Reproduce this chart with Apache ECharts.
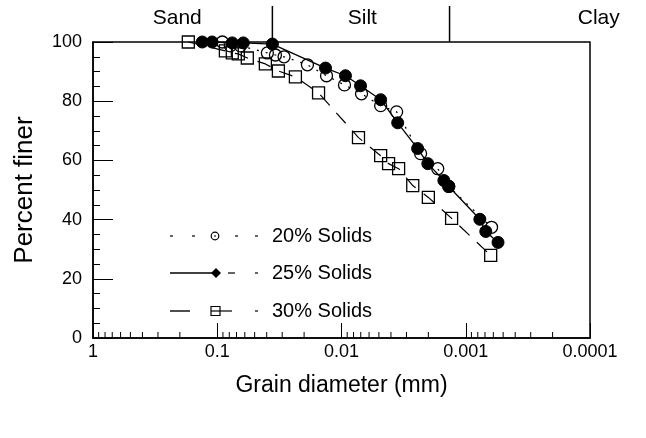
<!DOCTYPE html>
<html>
<head>
<meta charset="utf-8">
<script src="https://cdn.jsdelivr.net/npm/echarts@6/dist/echarts.min.js"></script>
<style>html,body{margin:0;padding:0;background:#fff}#c{width:646px;height:438px}</style>
</head>
<body>
<div id="c"></div>
<script>
// ---- data ----
const xTickLabels = ['1', '0.1', '0.01', '0.001', '0.0001'];
const yTickLabels = [0, 20, 40, 60, 80, 100];

const s20Name = '20% Solids';
const s20x = [0.091, 0.0785, 0.065, 0.0395, 0.034, 0.029, 0.0188, 0.0132, 0.00946, 0.0069, 0.00484, 0.0036, 0.00231, 0.00168, 0.00137, 0.00062];
const s20y = [100, 98.7, 98.7, 96.3, 95.6, 95, 92.3, 88.6, 85.5, 82.5, 78.5, 76.4, 62.3, 57.2, 51.2, 37.4];

const s25Name = '25% Solids';
const s25x = [0.132, 0.11, 0.0757, 0.0617, 0.036, 0.01345, 0.00929, 0.00703, 0.00484, 0.00353, 0.00244, 0.00202, 0.0015, 0.00137, 0.00077, 0.00069, 0.00055];
const s25y = [100, 100, 99.7, 99.7, 99.3, 91.2, 88.6, 85.2, 80.5, 72.7, 64, 58.9, 53.2, 51.2, 40.1, 36, 32.3];

const s30Name = '30% Solids';
const s30x = [0.171, 0.086, 0.0757, 0.0677, 0.0573, 0.041, 0.0322, 0.0235, 0.0153, 0.0073, 0.00484, 0.00418, 0.00347, 0.00267, 0.002, 0.0013, 0.00063];
const s30y = [100, 97, 96.3, 96, 94.6, 92.6, 90.2, 88.2, 82.8, 67.7, 61.6, 58.9, 57.2, 51.5, 47.5, 40.4, 27.9];

const zoneBounds = [0.036, 0.00135];
const zoneLabels = ['Sand', 'Silt', 'Clay'];
const zoneLabelX = [0.21, 0.0068, 0.000085];

// ---- helpers ----
const FONT = '"Liberation Sans", Arial, sans-serif';
const zip = (xs, ys) => xs.map((x, i) => [x, ys[i]]);
const minorTickVals = [];
for (let e = -4; e < 0; e++) {
  for (let m = 2; m <= 9; m++) minorTickVals.push(m * Math.pow(10, e));
}

// ---- legend (drawn as graphic: sample pattern + text) ----
const LX = 170, TX = 272;
const rowY = [236, 273, 311];
const seg = (x1, x2, y, w) => ({ type: 'line', shape: { x1, y1: y, x2, y2: y }, style: { stroke: '#000', lineWidth: w || 1.2 } });
const legendText = (t, y) => ({ type: 'text', x: TX, y, style: { text: t, font: '20px ' + FONT, fill: '#000', verticalAlign: 'middle', align: 'left' } });
const legendGraphic = [
  // 20% Solids
  seg(LX, LX + 3, rowY[0]), seg(LX + 22, LX + 25, rowY[0]),
  { type: 'circle', shape: { cx: LX + 45, cy: rowY[0], r: 3.8 }, style: { fill: 'none', stroke: '#000', lineWidth: 1.2 } },
  seg(LX + 44, LX + 46, rowY[0]),
  seg(LX + 65, LX + 68, rowY[0]), seg(LX + 85, LX + 88, rowY[0]),
  legendText(s20Name, rowY[0]),
  // 25% Solids
  seg(LX, LX + 42, rowY[1], 1.4),
  { type: 'polygon', shape: { points: [[LX + 41, rowY[1]], [LX + 46, rowY[1] - 5], [LX + 51, rowY[1]], [LX + 46, rowY[1] + 5]] }, style: { fill: '#000' } },
  seg(LX + 58, LX + 65, rowY[1]), seg(LX + 85, LX + 88, rowY[1]),
  legendText(s25Name, rowY[1]),
  // 30% Solids
  seg(LX, LX + 20, rowY[2], 1.4),
  { type: 'rect', shape: { x: LX + 41, y: rowY[2] - 4.5, width: 9, height: 9 }, style: { fill: 'none', stroke: '#000', lineWidth: 1.2 } },
  seg(LX + 41, LX + 62, rowY[2]), seg(LX + 85, LX + 88, rowY[2]),
  legendText(s30Name, rowY[2])
];

const chart = echarts.init(document.getElementById('c'), null, { renderer: 'canvas' });
const option = {
  animation: false,
  backgroundColor: '#fff',
  textStyle: { fontFamily: FONT, color: '#000' },
  grid: { left: 93, right: 56, top: 42, bottom: 100, show: true, borderColor: '#000', borderWidth: 1.5, backgroundColor: 'transparent' },
  graphic: legendGraphic,
  xAxis: {
    type: 'log', logBase: 10, min: 0.0001, max: 1, inverse: true, splitNumber: 4,
    axisLine: { onZero: false, lineStyle: { color: '#000', width: 1.5 } },
    axisTick: { inside: true, length: 15, lineStyle: { color: '#000', width: 1 } },
    axisLabel: {
      fontSize: 18, color: '#000', margin: 5, fontFamily: FONT,
      formatter: v => xTickLabels[Math.round(-Math.log10(v))]
    },
    splitLine: { show: false },
    name: 'Grain diameter (mm)', nameLocation: 'middle', nameGap: 36,
    nameTextStyle: { fontSize: 23, color: '#000', fontFamily: FONT }
  },
  yAxis: {
    type: 'value', min: 0, max: 100, interval: 20,
    axisLine: { lineStyle: { color: '#000', width: 1.5 } },
    axisTick: { inside: true, length: 20, lineStyle: { color: '#000', width: 1 } },
    minorTick: { show: true, splitNumber: 4, length: 7, lineStyle: { color: '#000', width: 1 } },
    axisLabel: { fontSize: 18, color: '#000', margin: 11, fontFamily: FONT,
      formatter: v => String(yTickLabels[Math.round(v / 20)]) },
    splitLine: { show: false },
    name: 'Percent finer', nameLocation: 'middle', nameGap: 55,
    nameTextStyle: { fontSize: 26, color: '#000', fontFamily: FONT }
  },
  series: [
    {
      name: s20Name, type: 'line', data: zip(s20x, s20y),
      symbol: 'circle', symbolSize: 12, showAllSymbol: true,
      itemStyle: { color: 'rgba(255,255,255,0)', borderColor: '#000', borderWidth: 1.3 },
      lineStyle: { color: '#000', width: 1.2, type: [2, 7] },
      z: 3
    },
    {
      name: s25Name, type: 'line', data: zip(s25x, s25y),
      symbol: 'circle', symbolSize: 12, showAllSymbol: true,
      itemStyle: { color: '#000', borderColor: '#000', borderWidth: 1 },
      lineStyle: { color: '#000', width: 1.3, type: 'solid' },
      z: 4
    },
    {
      name: s30Name, type: 'line', data: zip(s30x, s30y),
      symbol: 'rect', symbolSize: 12, showAllSymbol: true,
      itemStyle: { color: 'rgba(255,255,255,0)', borderColor: '#000', borderWidth: 1.3 },
      lineStyle: { color: '#000', width: 1.2, type: [14, 10] },
      z: 3
    },
    {
      type: 'custom', silent: true, clip: false, z: 6,
      data: minorTickVals.map(v => [v, 0]),
      renderItem: (params, api) => {
        const p = api.coord([api.value(0), 0]);
        return { type: 'line', shape: { x1: p[0], y1: p[1], x2: p[0], y2: p[1] - 6 }, style: { stroke: '#000', lineWidth: 1 } };
      }
    },
    {
      type: 'custom', silent: true, clip: false, z: 6,
      data: zoneBounds.map(v => [v, 100]),
      renderItem: (params, api) => {
        const p = api.coord([api.value(0), 100]);
        return { type: 'line', shape: { x1: p[0], y1: p[1], x2: p[0], y2: p[1] - 36 }, style: { stroke: '#000', lineWidth: 1.5 } };
      }
    },
    {
      type: 'custom', silent: true, clip: false, z: 6,
      data: zoneLabelX.map((v, i) => [v, 100, i]),
      renderItem: (params, api) => {
        const p = api.coord([api.value(0), 100]);
        return { type: 'text', style: { text: zoneLabels[api.value(2)], x: p[0], y: p[1] - 24, align: 'center', verticalAlign: 'middle', font: '21px ' + FONT, fill: '#000' } };
      }
    }
  ]
};
chart.setOption(option);
</script>
</body>
</html>
